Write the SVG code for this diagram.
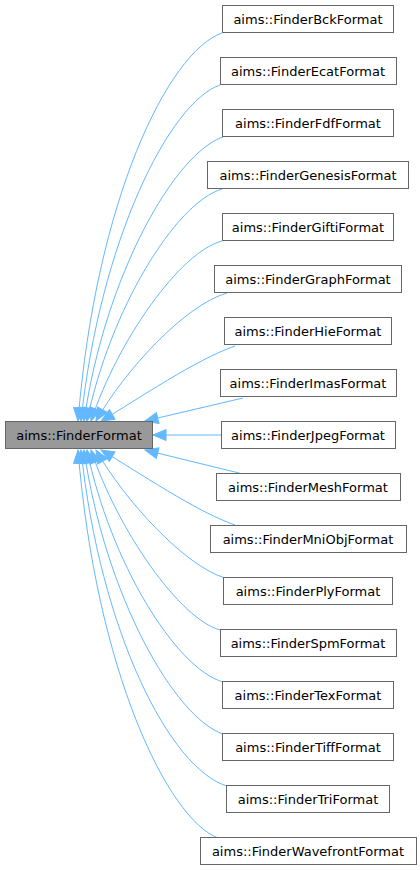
<svg xmlns="http://www.w3.org/2000/svg" width="420" height="870" viewBox="0 0 420 870">
<style>
.n rect{fill:#ffffff;stroke:#666666;stroke-width:1}
#main rect{fill:#999999;stroke:#666666;stroke-width:1}
text{font-family:"DejaVu Sans","Liberation Sans",sans-serif;font-size:13px;fill:#000000;text-anchor:middle}
.e path{fill:none;stroke:#63b8ff;stroke-width:1;marker-end:url(#ah)}
</style>
<defs>
<marker id="ah" markerUnits="userSpaceOnUse" markerWidth="16" markerHeight="14" refX="13" refY="5.5" orient="auto" overflow="visible">
<path d="M0,0 L13,5.5 L0,11 z" fill="#63b8ff" stroke="#63b8ff" stroke-width="1"/>
</marker>
</defs>
<g id="edges" class="e">
<path d="M222,33 C168,52 96,200 78,421"/>
<path d="M220,85 C170,102 100,240 81,421"/>
<path d="M223,137 C175,153 105,275 84,421"/>
<path d="M222,189 C175,203 110,310 87,421"/>
<path d="M222,241 C180,252 118,340 91,421"/>
<path d="M227,293 C185,305 125,370 96,421"/>
<path d="M235,346 C195,360 140,398 101,421"/>
<path d="M243,398 L145,421"/>
<path d="M221,435 L153,435"/>
<path d="M243,474 L145,450"/>
<path d="M235,525 C195,511 140,473 101,450"/>
<path d="M225,578 C185,566 125,501 96,450"/>
<path d="M220,630 C180,619 118,531 91,450"/>
<path d="M223,682 C175,668 110,561 87,450"/>
<path d="M223,734 C175,718 105,596 84,450"/>
<path d="M227,786 C170,769 100,631 81,450"/>
<path d="M218,838 C168,819 96,671 78,450"/>
</g>
<g id="main"><rect x="5.5" y="421.5" width="147" height="27"/><text x="79" y="439.5">aims::FinderFormat</text></g>
<g id="bck" class="n"><rect x="222.5" y="5.5" width="171" height="27"/><text x="308" y="23.5">aims::FinderBckFormat</text></g>
<g id="ecat" class="n"><rect x="220.5" y="57.5" width="176" height="27"/><text x="308" y="75.5">aims::FinderEcatFormat</text></g>
<g id="fdf" class="n"><rect x="222.5" y="109.5" width="171" height="27"/><text x="308" y="127.5">aims::FinderFdfFormat</text></g>
<g id="genesis" class="n"><rect x="207.5" y="161.5" width="201" height="27"/><text x="308" y="179.5">aims::FinderGenesisFormat</text></g>
<g id="gifti" class="n"><rect x="222.5" y="213.5" width="171" height="27"/><text x="308" y="231.5">aims::FinderGiftiFormat</text></g>
<g id="graph" class="n"><rect x="214.5" y="265.5" width="187" height="27"/><text x="308" y="283.5">aims::FinderGraphFormat</text></g>
<g id="hie" class="n"><rect x="224.5" y="317.5" width="167" height="27"/><text x="308" y="335.5">aims::FinderHieFormat</text></g>
<g id="imas" class="n"><rect x="220.5" y="369.5" width="176" height="27"/><text x="308" y="387.5">aims::FinderImasFormat</text></g>
<g id="jpeg" class="n"><rect x="221.5" y="421.5" width="174" height="27"/><text x="308" y="439.5">aims::FinderJpegFormat</text></g>
<g id="mesh" class="n"><rect x="216.5" y="473.5" width="184" height="27"/><text x="308" y="491.5">aims::FinderMeshFormat</text></g>
<g id="mniobj" class="n"><rect x="210.5" y="525.5" width="196" height="27"/><text x="308" y="543.5">aims::FinderMniObjFormat</text></g>
<g id="ply" class="n"><rect x="223.5" y="577.5" width="169" height="27"/><text x="308" y="595.5">aims::FinderPlyFormat</text></g>
<g id="spm" class="n"><rect x="220.5" y="629.5" width="176" height="27"/><text x="308" y="647.5">aims::FinderSpmFormat</text></g>
<g id="tex" class="n"><rect x="222.5" y="681.5" width="171" height="27"/><text x="308" y="699.5">aims::FinderTexFormat</text></g>
<g id="tiff" class="n"><rect x="222.5" y="733.5" width="171" height="27"/><text x="308" y="751.5">aims::FinderTiffFormat</text></g>
<g id="tri" class="n"><rect x="226.5" y="785.5" width="163" height="27"/><text x="308" y="803.5">aims::FinderTriFormat</text></g>
<g id="wavefront" class="n"><rect x="200.5" y="837.5" width="216" height="27"/><text x="308" y="855.5">aims::FinderWavefrontFormat</text></g>
</svg>
